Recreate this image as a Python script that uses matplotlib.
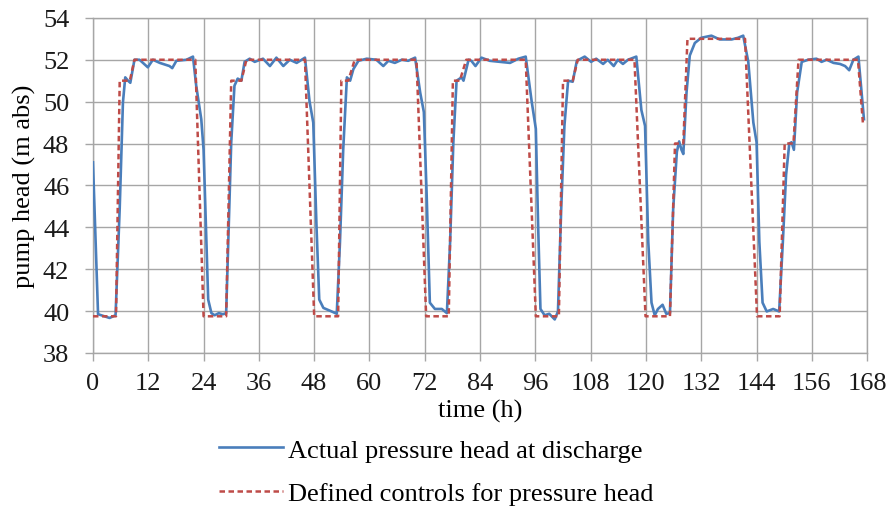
"""Pump discharge head over one week: actual pressure head vs defined controls."""

import matplotlib

matplotlib.use("Agg")
import matplotlib.pyplot as plt

# Actual pressure head at discharge (time in h, head in m abs).
actual_t = [
    0, 1.1, 2.5, 3.6, 4.9, 5.8, 6.5, 7.0, 7.6, 8.1, 9.0, 10.1, 11.9, 13.0, 14.5,
    16.6, 17.2, 18.1, 20.3, 21.7, 22.4, 23.5, 24.0, 25.0, 25.7, 26.4, 27.3, 28.2,
    28.9, 30.0, 30.7, 31.4, 32.2, 32.9, 34.0, 35.1, 36.9, 38.4, 39.8, 41.3, 42.7,
    44.2, 46.0, 47.0, 47.8, 48.5, 49.1, 50.0, 51.8, 52.9, 53.6, 54.3, 55.1, 55.8,
    56.5, 57.6, 59.4, 61.5, 63.0, 64.1, 65.5, 67.0, 68.4, 69.9, 71.0, 71.8, 72.4,
    73.1, 74.2, 75.7, 76.8, 77.5, 78.2, 78.9, 80.0, 80.4, 81.5, 82.1, 83.0, 84.3,
    86.1, 88.3, 90.5, 92.3, 93.9, 95.2, 96.1, 96.6, 97.1, 98.0, 99.0, 100.2,
    100.9, 101.6, 102.3, 103.1, 104.1, 105.0, 106.7, 108.1, 109.2, 110.7, 111.7,
    113.0, 113.9, 115.0, 116.1, 117.9, 119.0, 119.8, 120.5, 121.2, 121.9, 122.6,
    123.6, 124.4, 125.2, 125.9, 126.7, 127.2, 127.7, 128.1, 128.8, 129.5, 130.6,
    132.0, 134.2, 136.0, 138.6, 140.0, 141.1, 142.2, 143.3, 144.0, 144.6, 145.3,
    146.2, 147.6, 148.9, 149.7, 150.4, 151.1, 151.6, 152.1, 152.8, 153.8, 155.2,
    157.0, 158.1, 159.2, 160.7, 162.1, 163.2, 164.1, 165.0, 166.1, 166.8, 167.3,
]
actual_head = [
    47.1, 39.85, 39.75, 39.67, 39.8, 44.9, 49.96, 51.16, 51.0, 50.9, 52.0, 52.0,
    51.64, 52.0, 51.85, 51.7, 51.6, 51.95, 52.0, 52.15, 50.76, 49.16, 47.7, 40.55,
    39.9, 39.8, 39.9, 39.85, 39.9, 48.06, 50.76, 51.1, 51.0, 51.9, 52.05, 51.9,
    52.05, 51.7, 52.1, 51.7, 52.0, 51.85, 52.1, 50.0, 49.0, 44.06, 40.55, 40.15,
    39.98, 39.87, 43.3, 47.7, 51.16, 51.0, 51.55, 51.95, 52.05, 52.0, 51.7, 51.95,
    51.85, 52.0, 51.95, 52.1, 50.44, 49.5, 45.6, 40.4, 40.1, 40.1, 39.9, 43.3,
    48.06, 51.0, 51.16, 51.0, 52.0, 51.95, 51.7, 52.1, 51.95, 51.9, 51.85, 52.05,
    52.15, 50.0, 48.7, 44.06, 40.1, 39.8, 39.87, 39.6, 39.98, 44.86, 48.84, 51.0,
    50.95, 51.95, 52.15, 51.9, 52.05, 51.8, 52.0, 51.7, 52.0, 51.8, 52.0, 52.15,
    49.6, 48.84, 43.3, 40.4, 39.8, 40.1, 40.3, 39.87, 39.9, 44.86, 47.6, 48.1,
    47.7, 47.5, 50.44, 52.2, 52.8, 53.05, 53.15, 52.97, 52.97, 53.05, 53.15, 51.9,
    49.0, 48.06, 43.3, 40.4, 39.98, 40.1, 39.98, 43.3, 46.5, 48.0, 48.06, 47.7,
    50.44, 51.9, 52.0, 52.05, 51.9, 52.0, 51.85, 51.8, 51.7, 51.5, 52.0, 52.15,
    50.44, 49.16,
]

# Defined control set points for the pressure head (breakpoints).
control_t = [
    0, 5.0, 5.8, 8.0, 9.0, 22.2, 24.0, 28.9, 30.0, 32.2, 33.3, 46.0, 48.0, 53.2,
    53.9, 55.4, 56.8, 70.2, 72.3, 77.2, 78.1, 79.6, 81.0, 93.9, 96.1, 101.1,
    102.0, 104.1, 105.2, 117.5, 119.9, 125.2, 126.3, 128.1, 129.0, 141.5, 144.1,
    149.0, 150.1, 152.0, 153.1, 166.0, 167.1,
]
control_head = [
    39.75, 39.75, 51.0, 51.0, 52.0, 52.0, 39.75, 39.75, 51.0, 51.0, 52.0, 52.0,
    39.75, 39.75, 51.0, 51.0, 52.0, 52.0, 39.75, 39.75, 51.0, 51.0, 52.0, 52.0,
    39.75, 39.75, 51.0, 51.0, 52.0, 52.0, 39.75, 39.75, 48.0, 48.0, 53.0, 53.0,
    39.75, 39.75, 48.0, 48.0, 52.0, 52.0, 48.9,
]

x_ticks = list(range(0, 169, 12))
y_ticks = list(range(38, 55, 2))

GRID_COLOR = "#a6a6a6"
FONT_SIZE = 19


def main() -> int:
    plt.rcParams["font.family"] = ["Liberation Serif", "DejaVu Serif"]
    fig = plt.figure(figsize=(8.94, 5.10), dpi=100)
    ax = fig.add_axes([0.104, 0.306, 0.866, 0.657])

    ax.plot(actual_t, actual_head, color="#4a7ebb", linewidth=1.9,
            label="Actual pressure head at discharge", zorder=3)
    ax.plot(control_t, control_head, color="#be4b48", linewidth=1.8,
            linestyle=(0, (2.2, 1.4)), label="Defined controls for pressure head",
            zorder=4)

    ax.set_xlim(0, 168)
    ax.set_ylim(38, 54)
    ax.set_xticks(x_ticks)
    ax.set_yticks(y_ticks)
    ax.grid(True, color=GRID_COLOR, linewidth=1.0)
    ax.set_axisbelow(True)
    for spine in ax.spines.values():
        spine.set_color(GRID_COLOR)
        spine.set_linewidth(1.0)
    ax.tick_params(axis="both", colors=GRID_COLOR, labelcolor="#1a1a1a",
                   labelsize=FONT_SIZE, length=6, width=1.0)
    ax.tick_params(axis="x", pad=8)
    ax.tick_params(axis="y", pad=11)

    ax.set_xlabel("time (h)", fontsize=FONT_SIZE, labelpad=3)
    ax.set_ylabel("pump head (m abs)", fontsize=FONT_SIZE, labelpad=5)

    handles, labels = ax.get_legend_handles_labels()
    fig.legend(handles, labels, loc="upper center", bbox_to_anchor=(0.488, 0.165),
               ncol=1, frameon=False, fontsize=FONT_SIZE, handlelength=2.45,
               handletextpad=0.2, labelspacing=0.75, borderpad=0)

    fig.savefig("out.png", dpi=100)
    plt.close(fig)
    return 0


if __name__ == "__main__":
    raise SystemExit(main())
